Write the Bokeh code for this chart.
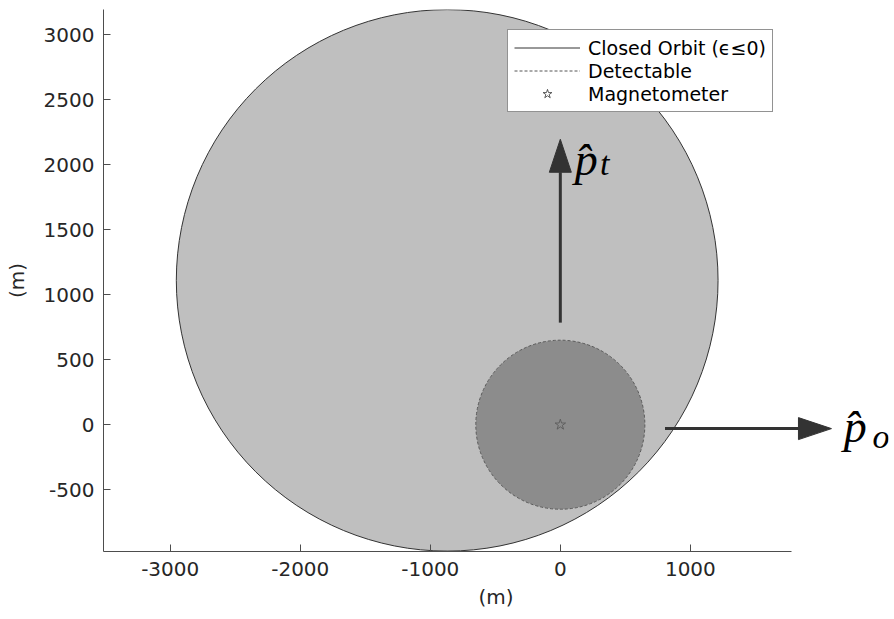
import math
from bokeh.plotting import figure
from bokeh.models import (Range1d, FixedTicker, Legend, LegendItem, Label, Title)
from bokeh.embed import file_html
from bokeh.resources import INLINE

# ---- data ----
orbit_center_x = [-870]
orbit_center_y = [1110]
orbit_radius = [2083]
detect_center_x = [0]
detect_center_y = [0]
detect_radius = [650]
mag_x = [0]
mag_y = [0]
arrow_x0 = [0, 805]
arrow_y0 = [785, -30]
arrow_x1 = [0, 2085]
arrow_y1 = [2195, -30]
arrow_names = ["t", "o"]
x_ticks = [-3000, -2000, -1000, 0, 1000]
y_ticks = [-500, 0, 500, 1000, 1500, 2000, 2500, 3000]
x_lim = (-3513, 1781)
y_lim = (-975, 3193)

W, H = 890, 619
ML, MR, MT, MB = 103, 2, 9, 68
fw, fh = W - ML - MR, H - MT - MB
scale = fh / (y_lim[1] - y_lim[0])
x_end = x_lim[0] + fw / scale

p = figure(width=W, height=H, output_backend="svg", toolbar_location=None,
           x_range=Range1d(x_lim[0], x_end), y_range=Range1d(*y_lim),
           min_border_left=ML, min_border_right=MR, min_border_top=MT, min_border_bottom=MB)
p.outline_line_color = None
p.grid.visible = False
p.background_fill_color = "white"
p.border_fill_color = "white"

big = p.circle(orbit_center_x, orbit_center_y, radius=orbit_radius,
               fill_color="#bfbfbf", line_color="#333333", line_width=1)
small = p.circle(detect_center_x, detect_center_y, radius=detect_radius,
                 fill_color="#8c8c8c", line_color="#5a5a5a", line_width=1, line_dash="3 2")
star = p.scatter(mag_x, mag_y, marker="star", size=11, fill_alpha=0,
                 line_color="#555555", line_width=0.8)

# arrows
head_len = 33 / scale
head_w = 22 / scale
sx0, sy0, sx1, sy1, hx, hy = [], [], [], [], [], []
for x0, y0, x1, y1 in zip(arrow_x0, arrow_y0, arrow_x1, arrow_y1):
    dx, dy = x1 - x0, y1 - y0
    L = (dx * dx + dy * dy) ** 0.5
    ux, uy = dx / L, dy / L
    bx, by = x1 - ux * head_len, y1 - uy * head_len
    sx0.append(x0); sy0.append(y0); sx1.append(bx); sy1.append(by)
    nx, ny = -uy, ux
    hx.append([x1, bx + nx * head_w / 2, bx - nx * head_w / 2])
    hy.append([y1, by + ny * head_w / 2, by - ny * head_w / 2])
p.segment(sx0, sy0, sx1, sy1, line_color="#333333", line_width=3)
p.patches(hx, hy, fill_color="#333333", line_color="#333333", line_width=1)

# arrow labels (p-hat with subscript)
label_pos = [(110, 2042, 305, 2007), (2180, -10, 2400, -92)]
for name, (px, py, sx, sy) in zip(arrow_names, label_pos):
    p.add_layout(Label(x=px, y=py, text="p\u0302", text_font="Liberation Serif",
                       text_font_style="italic", text_font_size="46px",
                       text_color="black", text_baseline="alphabetic"))
    p.add_layout(Label(x=sx, y=sy, text=name, text_font="Liberation Serif",
                       text_font_style="italic", text_font_size="34px",
                       text_color="black", text_baseline="alphabetic"))

# legend dummies (no visible data)
nan = [float("nan")]
l1 = p.line(nan, nan, line_color="#333333", line_width=1)
l2 = p.line(nan, nan, line_color="#555555", line_width=1, line_dash="3 2")
l3 = p.scatter(nan, nan, marker="star", size=10, fill_alpha=0, line_color="#333333", line_width=0.8)
legend = Legend(items=[LegendItem(label="Closed Orbit (\u03f5\u22640)", renderers=[l1]),
                       LegendItem(label="Detectable", renderers=[l2]),
                       LegendItem(label="Magnetometer", renderers=[l3])],
                location=(404, 439), glyph_width=66, glyph_height=23, label_height=23,
                spacing=0, padding=6, margin=0, label_standoff=8,
                label_text_font="DejaVu Sans", label_text_font_size="19px",
                label_text_color="#000000", border_line_color="#262626",
                border_line_width=1, background_fill_color="white", background_fill_alpha=1)
p.add_layout(legend, "center")

# axes
for ax in (p.xaxis[0], p.yaxis[0]):
    ax.axis_line_color = "#4d4d4d"
    ax.major_tick_line_color = "#4d4d4d"
    ax.major_tick_in = 7
    ax.major_tick_out = 0
    ax.minor_tick_line_color = None
    ax.major_label_text_font = "DejaVu Sans"
    ax.major_label_text_font_size = "20px"
    ax.major_label_text_color = "#262626"
p.xaxis.ticker = FixedTicker(ticks=x_ticks)
p.yaxis.ticker = FixedTicker(ticks=y_ticks)
p.xaxis.major_label_overrides = {t: str(t) for t in x_ticks}
p.yaxis.major_label_overrides = {t: str(t) for t in y_ticks}
p.xaxis.bounds = x_lim
p.yaxis.bounds = y_lim
p.xaxis.major_label_standoff = 10
p.yaxis.major_label_standoff = 9

p.yaxis.axis_label = "(m)"
p.yaxis.axis_label_text_font = "DejaVu Sans"
p.yaxis.axis_label_text_font_size = "20px"
p.yaxis.axis_label_text_font_style = "normal"
p.yaxis.axis_label_text_color = "#262626"
p.yaxis.axis_label_standoff = 12

# x axis title centred under the axis extent (not the full frame)
p.add_layout(Title(text="(m)", align="center", offset=-48, standoff=8,
                   text_font="DejaVu Sans", text_font_size="20px",
                   text_font_style="normal", text_color="#262626"), "below")

open("out.html", "w").write(file_html(p, INLINE))
